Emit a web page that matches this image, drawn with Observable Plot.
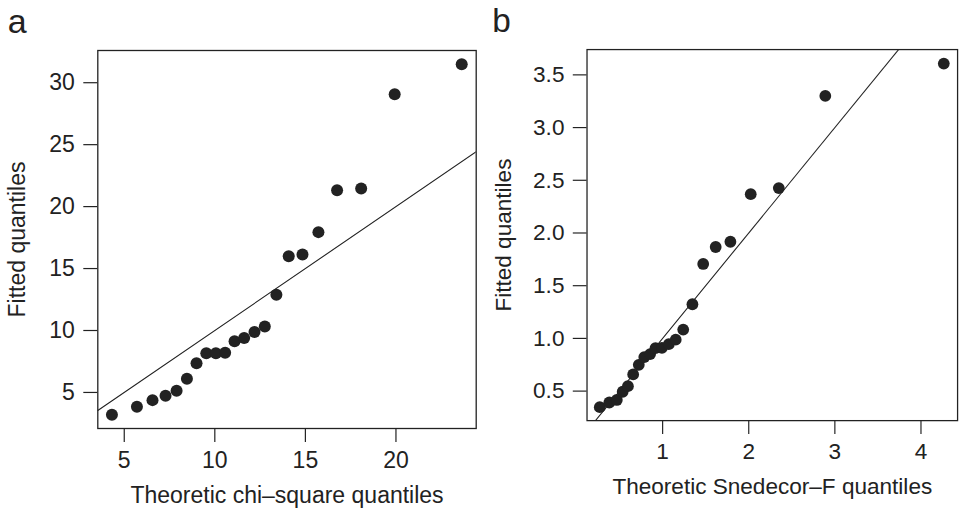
<!DOCTYPE html>
<html>
<head>
<meta charset="utf-8">
<script src="https://cdn.jsdelivr.net/npm/d3@7"></script>
<script src="https://cdn.jsdelivr.net/npm/@observablehq/plot@0.6"></script>
<style>
  html, body { margin: 0; padding: 0; background: #fff; overflow: hidden; }
  #wrap { position: relative; width: 962px; height: 510px; overflow: hidden; }
  #pa { position: absolute; left: 0; top: 0; }
  #pb { position: absolute; left: 481px; top: 0; }
</style>
</head>
<body>
<div id="wrap"><div id="pa"></div><div id="pb"></div></div>
<script>
// Panel a: chi-square QQ plot
const chiTheoretic = [4.32, 5.70, 6.56, 7.28, 7.89, 8.46, 8.99, 9.53, 10.06, 10.57, 11.09, 11.62, 12.19, 12.76, 13.40, 14.08, 14.84, 15.72, 16.75, 18.08, 19.93, 23.63];
const chiFitted    = [3.20, 3.84, 4.38, 4.73, 5.14, 6.11, 7.35, 8.16, 8.16, 8.21, 9.13, 9.40, 9.88, 10.32, 12.88, 16.00, 16.14, 17.94, 21.32, 21.46, 29.06, 31.49];
const chiXTicks = [5, 10, 15, 20];
const chiYTicks = [5, 10, 15, 20, 25, 30];

// Panel b: Snedecor-F QQ plot
const fTheoretic = [0.270, 0.381, 0.468, 0.536, 0.597, 0.658, 0.723, 0.787, 0.855, 0.917, 0.992, 1.072, 1.152, 1.239, 1.346, 1.471, 1.616, 1.787, 2.023, 2.349, 2.889, 4.265];
const fFitted    = [0.348, 0.392, 0.416, 0.494, 0.547, 0.658, 0.749, 0.823, 0.851, 0.907, 0.910, 0.945, 0.988, 1.084, 1.324, 1.706, 1.867, 1.917, 2.368, 2.426, 3.300, 3.607];
const fXTicks = [1, 2, 3, 4];
const fYTicks = [0.5, 1.0, 1.5, 2.0, 2.5, 3.0, 3.5];

// Reference line y = intercept + slope * x
const refIntercept = 0;
const refSlope = 1;

const ink = "#222";
const font = "'Liberation Sans', Arial, Helvetica, sans-serif";
const fs = 23;

function panel({letter, xs, ys, xDomain, yDomain, xTicks, yTicks, xFormat, yFormat, xLabel, yLabel,
                width, marginLeft, marginRight, yLabelDx, letterDx}) {
  const data = xs.map((x, i) => ({x, y: ys[i]}));
  const line = xDomain.map(x => ({x, y: refIntercept + refSlope * x}));
  return Plot.plot({
    width, height: 510,
    marginLeft, marginRight, marginTop: 50, marginBottom: 82,
    style: {fontFamily: font, fontSize: fs + "px", color: ink, background: "white", overflow: "hidden"},
    x: {domain: xDomain},
    y: {domain: yDomain},
    marks: [
      Plot.line(line, {x: "x", y: "y", stroke: ink, strokeWidth: 1.1, clip: true}),
      Plot.dot(data, {x: "x", y: "y", r: 6, fill: ink, stroke: "none"}),
      Plot.frame({stroke: ink, strokeWidth: 1.3}),
      Plot.axisX({ticks: xTicks, tickFormat: xFormat, tickSize: 14, tickPadding: 9, label: null, fontSize: fs, strokeWidth: 1.2}),
      Plot.axisY({ticks: yTicks, tickFormat: yFormat, tickSize: 14, tickPadding: 9, label: null, fontSize: fs, strokeWidth: 1.2}),
      Plot.text([xLabel], {text: d => d, frameAnchor: "bottom", dy: 67, fontSize: fs, fill: ink, textAnchor: "middle", lineAnchor: "middle"}),
      Plot.text([yLabel], {text: d => d, frameAnchor: "left", dx: yLabelDx, rotate: -90, fontSize: fs, fill: ink, textAnchor: "middle", lineAnchor: "middle"}),
      Plot.text([letter], {text: d => d, frameAnchor: "top-left", dx: letterDx, dy: -28.6, fontSize: 34, fill: ink, textAnchor: "start", lineAnchor: "middle"})
    ]
  });
}

document.getElementById("pa").appendChild(panel({
  letter: "a", xs: chiTheoretic, ys: chiFitted,
  xDomain: [3.54, 24.43], yDomain: [2.09, 32.6],
  xTicks: chiXTicks, yTicks: chiYTicks, xFormat: d3.format("d"), yFormat: d3.format("d"),
  xLabel: "Theoretic chi\u2013square quantiles", yLabel: "Fitted quantiles",
  width: 481, marginLeft: 97.3, marginRight: 5.3, yLabelDx: -80, letterDx: -90
}));

document.getElementById("pb").appendChild(panel({
  letter: "b", xs: fTheoretic, ys: fFitted,
  xDomain: [0.122, 4.425], yDomain: [0.22, 3.74],
  xTicks: fXTicks, yTicks: fYTicks, xFormat: d3.format("d"), yFormat: d3.format(".1f"),
  xLabel: "Theoretic Snedecor\u2013F quantiles", yLabel: "Fitted quantiles",
  width: 490, marginLeft: 107.5, marginRight: 5, yLabelDx: -84.5, letterDx: -96.5
}));
</script>
</body>
</html>
